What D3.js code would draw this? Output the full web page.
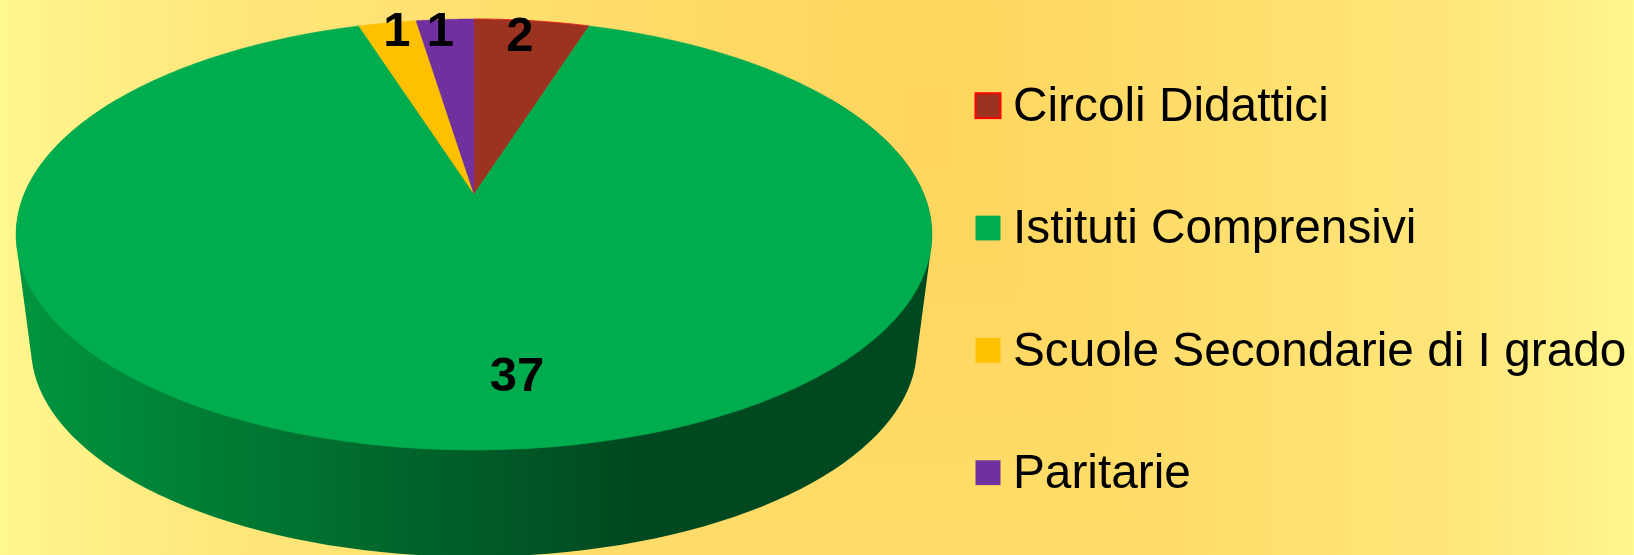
<!DOCTYPE html>
<html>
<head>
<meta charset="utf-8">
<script src="https://cdn.jsdelivr.net/npm/d3@7"></script>
<style>
html, body { margin: 0; padding: 0; background: #fff; overflow: hidden; }
svg { display: block; }
text { font-family: "Liberation Sans", Arial, sans-serif; fill: #000; }
</style>
</head>
<body>
<svg></svg>
<script>
const width = 1634;
const height = 555;

const categories = ["Circoli Didattici", "Istituti Comprensivi", "Scuole Secondarie di I grado", "Paritarie"];
const values = [2, 37, 1, 1];
const colors = ["#9c3320", "#00ad4e", "#ffc000", "#7030a0"];

const bgEdge = "#fff78f";
const bgCentre = "#ffd55c";

let svg = d3.select("svg").attr("width", width).attr("height", height);
let defs = svg.append("defs");

// background is a rectangular gradient running past the picture, one triangle per side
const bgX = 930;
const bgY = 130;
const bgL = bgX - 930;
const bgR = bgX + 704;
const bgT = bgY - 1300;
const bgB = bgY + 1300;
const bgSides = [
    { pts: [[bgL, bgT], [bgL, bgB]], to: [bgL, bgY] },
    { pts: [[bgR, bgT], [bgR, bgB]], to: [bgR, bgY] },
    { pts: [[bgL, bgT], [bgR, bgT]], to: [bgX, bgT] },
    { pts: [[bgL, bgB], [bgR, bgB]], to: [bgX, bgB] }
];
bgSides.forEach((s, i) => {
    let g = defs.append("linearGradient").attr("id", `bg-${i}`)
        .attr("gradientUnits", "userSpaceOnUse")
        .attr("x1", bgX).attr("y1", bgY).attr("x2", s.to[0]).attr("y2", s.to[1]);
    g.append("stop").attr("offset", 0).attr("stop-color", bgCentre);
    g.append("stop").attr("offset", 0.75).attr("stop-color", "#ffe67a");
    g.append("stop").attr("offset", 1).attr("stop-color", bgEdge);
    svg.append("path")
        .attr("d", d3.line()([[bgX, bgY], s.pts[0], s.pts[1]]) + "Z")
        .attr("fill", `url(#bg-${i})`)
        .attr("stroke", `url(#bg-${i})`);
});

// pie disc is a circle seen in perspective
function disc(cy, scale) {
    const a = 449.8 * scale;
    const b = 207.9 * scale;
    const p = 0.188;
    return (angle, r = 1) => {
        const u = Math.sin(angle) * r;
        const v = Math.cos(angle) * r;
        const w = 1 + p * v;
        return [474 + a * u / w, cy - b * v / w];
    };
}
const topFace = disc(194, 1);
const bottomFace = disc(309, 0.967);

function rim(project, a0, a1) {
    return d3.range(0, 121).map(i => project(a0 + (a1 - a0) * i / 120));
}

const slices = d3.pie().sort(null)(values);

// side wall
let wallGrad = defs.append("linearGradient").attr("id", "wall")
    .attr("gradientUnits", "userSpaceOnUse")
    .attr("x1", 16).attr("y1", 0).attr("x2", 932).attr("y2", 0);
[[0, "#00953f"], [0.45, "#006229"], [0.68, "#004820"], [1, "#004820"]].forEach(s => {
    wallGrad.append("stop").attr("offset", s[0]).attr("stop-color", s[1]);
});
const wallPts = rim(topFace, Math.PI / 3, Math.PI * 5 / 3).concat(rim(bottomFace, Math.PI / 3, Math.PI * 5 / 3));
svg.append("path")
    .attr("d", d3.line()(d3.polygonHull(wallPts)) + "Z")
    .attr("fill", "url(#wall)");

// top face
svg.append("g").selectAll("path")
    .data(slices)
    .join("path")
    .attr("d", d => d3.line()([topFace(0, 0)].concat(rim(topFace, d.startAngle, d.endAngle))) + "Z")
    .attr("fill", (d, i) => colors[i])
    .attr("stroke", (d, i) => i === 0 ? "#e8201a" : colors[i])
    .attr("stroke-width", (d, i) => i === 0 ? 1 : 0.5);

// data labels sit where Excel left them, not on the slice middle
const labelR = [0.92, 0.74, 0.98, 0.98];
const labelDx = [-8, 43, 8, -5];
const labelDy = [18, 18, 20, 24];
svg.append("g").selectAll("text")
    .data(slices)
    .join("text")
    .attr("x", (d, i) => topFace((d.startAngle + d.endAngle) / 2, labelR[i])[0] + labelDx[i])
    .attr("y", (d, i) => topFace((d.startAngle + d.endAngle) / 2, labelR[i])[1] + labelDy[i])
    .attr("text-anchor", "middle")
    .attr("font-size", 49)
    .attr("font-weight", "bold")
    .text(d => d.value);

// legend
const legendY = d3.scalePoint().domain(categories).range([120, 487]);
let legend = svg.append("g").selectAll("g")
    .data(categories)
    .join("g")
    .attr("transform", d => `translate(0, ${legendY(d)})`);
legend.append("rect")
    .attr("x", 975.5)
    .attr("y", -26.7)
    .attr("width", 25)
    .attr("height", 24.8)
    .attr("fill", (d, i) => colors[i])
    .attr("stroke", (d, i) => i === 0 ? "#ff0000" : "none")
    .attr("stroke-width", 2);
legend.append("text")
    .attr("transform", "translate(1013, 1) scale(0.975, 1)")
    .attr("font-size", 49)
    .text(d => d);
</script>
</body>
</html>
